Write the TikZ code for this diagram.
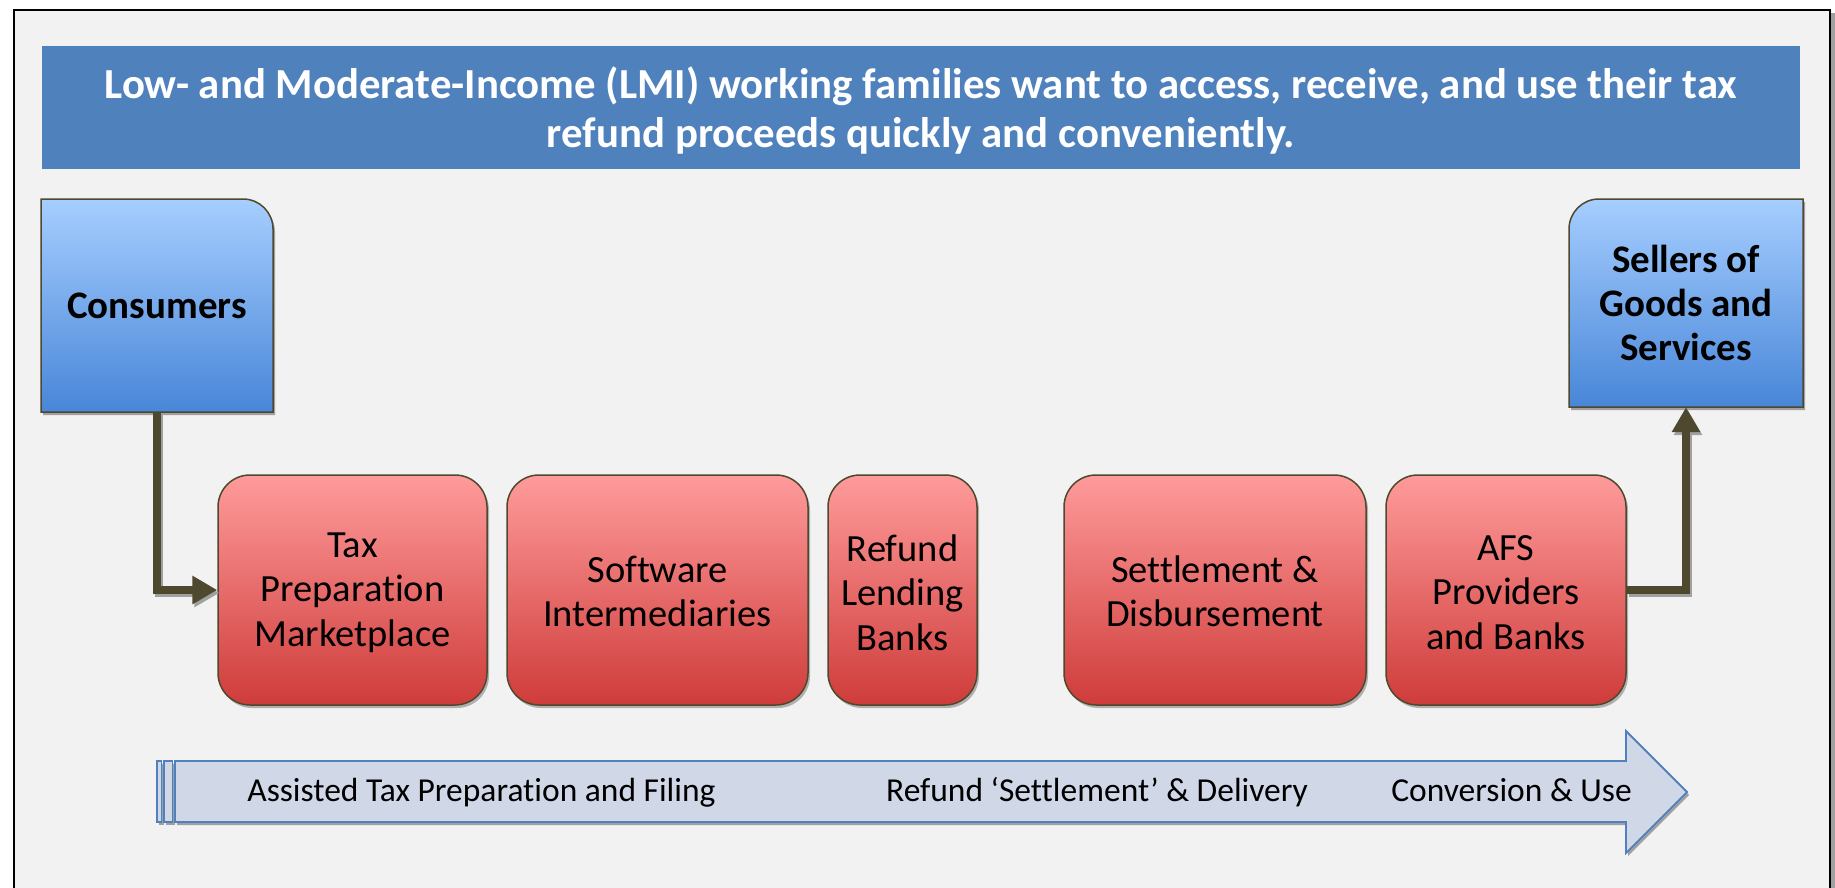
\documentclass[tikz,border=0pt]{standalone}
\usepackage{fontspec}
\setmainfont{Carlito}[Ligatures={NoCommon,NoContextual}]
\usetikzlibrary{arrows.meta,shadows,calc}
\definecolor{bgc}{HTML}{F2F2F2}
\definecolor{titlec}{HTML}{4F81BD}
\definecolor{redtop}{RGB}{255,155,155}
\definecolor{redbot}{RGB}{206,60,58}
\definecolor{bluetop}{RGB}{166,206,255}
\definecolor{bluebot}{RGB}{72,134,216}
\definecolor{olive}{RGB}{78,72,46}
\definecolor{arrowfill}{HTML}{D0D8E8}
\definecolor{shadowc}{RGB}{160,160,160}
\begin{document}
\begin{tikzpicture}[x=1pt,y=-1pt,
  redbox/.style={rectangle, rounded corners=32pt, draw=olive, line width=1.5pt,
    top color=redtop, bottom color=redbot, minimum height=230pt, inner sep=0pt,
    align=center, font=\fontsize{38.5}{44.5}\selectfont,
    drop shadow={shadow xshift=2pt, shadow yshift=-3pt, fill=shadowc, opacity=0.8}},
  redtext/.style={inner sep=0pt, align=center, font=\fontsize{38.5}{44.5}\selectfont},
  bluebox/.style={draw=olive, line width=1.5pt, top color=bluetop, bottom color=bluebot},
  bluelabel/.style={rectangle, inner sep=0pt, align=center, font=\fontsize{39}{44}\selectfont\bfseries},
  conn/.style={draw=olive, line width=8pt, -{Triangle[width=27pt,length=25pt]}},
  connshadow/.style={draw=shadowc, line width=8pt, -{Triangle[width=27pt,length=25pt]}, transform canvas={xshift=2pt,yshift=-3pt}},
  flowarrow/.style={draw=titlec, line width=1.8pt, fill=arrowfill},
  flowtext/.style={anchor=base, inner sep=0pt, font=\fontsize{33.5}{40}\selectfont},
  titlebox/.style={rectangle, fill=titlec, inner sep=0pt, minimum width=1758pt, minimum height=123pt},
  titletext/.style={inner sep=0pt, align=center, text=white, font=\fontsize{42.8}{48.5}\selectfont\bfseries}
]
\useasboundingbox (0,0) rectangle (1835,888);
\clip (0,0) rectangle (1835,888);
\fill[white] (0,0) rectangle (1835,888);
% frame
\fill[bgc] (14,10) rectangle (1830,900);
\fill[shadowc] (1831,13) rectangle (1835,900);
\draw[black, line width=2pt] (14,900) -- (14,10) -- (1830,10) -- (1830,900);

% title
\node[titlebox] (title) at (921,107.5) {};
\node[titletext] (titlet) at (921,110.5) {Low- and Moderate-Income (LMI) working families want to access, receive, and use their tax\\refund proceeds quickly and conveniently.};

% consumers box (top-right corner rounded)
\fill[shadowc] (43,415) -- (43,202) -- (245,202) .. controls (261.6,202) and (275,215.4) .. (275,232) -- (275,415) -- cycle;
\draw[bluebox] (41,412) -- (41,199) -- (243,199) .. controls (259.6,199) and (273,212.4) .. (273,229) -- (273,412) -- cycle;
\node[bluelabel, minimum width=232pt, minimum height=213pt] (cons) at (157,305.5) {Consumers};

% sellers box (top-left corner rounded)
\fill[shadowc] (1571,410) -- (1571,232) .. controls (1571,215.4) and (1584.4,202) .. (1601,202) -- (1805,202) -- (1805,410) -- cycle;
\draw[bluebox] (1569,407) -- (1569,229) .. controls (1569,212.4) and (1582.4,199) .. (1599,199) -- (1803,199) -- (1803,407) -- cycle;
\node[bluelabel, minimum width=234pt, minimum height=208pt] (sell) at (1686,303) {Sellers of\\Goods and\\Services};

% red boxes
\node[redbox, minimum width=269pt] (tax) at (352.5,590) {};
\node[redbox, minimum width=301pt] (soft) at (657.5,590) {};
\node[redbox, minimum width=149pt] (lend) at (902.5,590) {};
\node[redbox, minimum width=302pt] (settle) at (1215,590) {};
\node[redbox, minimum width=240pt] (afs) at (1506,590) {};
\node[redtext] (taxt) at (352.5,592.5) {Tax\\Preparation\\Marketplace};
\node[redtext] (softt) at (657.5,591.5) {Software\\Intermediaries};
\node[redtext] (lendt) at (902.5,592.5) {Refund\\Lending\\Banks};
\node[redtext] (settlet) at (1215,591.5) {Settlement \&\\Disbursement};
\node[redtext] (afst) at (1506,592.5) {AFS\\Providers\\and Banks};

% connectors
\draw[connshadow] (cons.south) |- (tax.west);
\draw[conn] (cons.south) |- (tax.west);
\draw[connshadow] (afs.east) -| (sell.south);
\draw[conn] (afs.east) -| (sell.south);

% bottom flow arrow
\fill[shadowc] (159,764) rectangle (163.5,825);
\fill[shadowc] (166,764) rectangle (174.5,825);
\fill[shadowc] (177,764) -- (1628,764) -- (1628,734) -- (1689,795) -- (1628,856) -- (1628,825) -- (177,825) -- cycle;
\draw[flowarrow] (157,761) rectangle (161.5,822);
\draw[flowarrow] (164,761) rectangle (172.5,822);
\draw[flowarrow] (175,761) -- (1626,761) -- (1626,731) -- (1687,792) -- (1626,853) -- (1626,822) -- (175,822) -- cycle;
\node[flowtext] (f1) at (481.5,801) {Assisted Tax Preparation and Filing};
\node[flowtext] (f2) at (1097,801) {Refund ‘Settlement’ \& Delivery};
\node[flowtext] (f3) at (1511.5,801) {Conversion \& Use};
\end{tikzpicture}
\end{document}
